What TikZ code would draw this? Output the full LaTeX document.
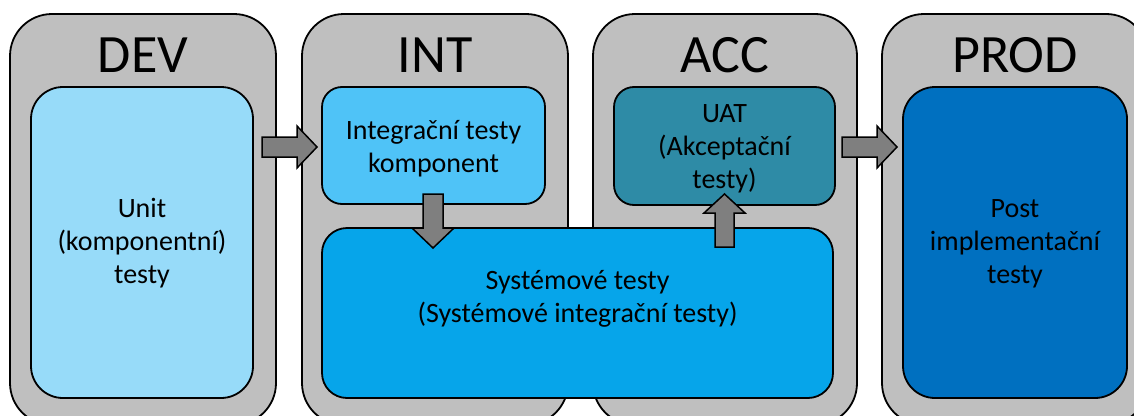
\documentclass[tikz,border=0pt]{standalone}
\usepackage{fontspec}
\setmainfont{Carlito}
\usetikzlibrary{calc}
\definecolor{outergray}{HTML}{BFBFBF}
\definecolor{arrgray}{HTML}{7F7F7F}
\definecolor{devblue}{HTML}{97DBF9}
\definecolor{intblue}{HTML}{4FC3F7}
\definecolor{sysblue}{HTML}{06A5EA}
\definecolor{uatteal}{HTML}{2E8BA6}
\definecolor{prodblue}{HTML}{0070C0}
\tikzset{
  outerbox/.style={draw=black, fill=outergray, line width=1.8pt, rounded corners=42pt},
  innerbox/.style={draw=black, line width=1.8pt},
  heading/.style={font=\fontsize{54}{60}\selectfont, anchor=base, inner sep=0pt},
  txt/.style={font=\fontsize{28}{33}\selectfont, align=center, inner sep=0pt},
  blockarrow/.style={draw=black, fill=arrgray, line width=1.5pt, line join=miter},
}
\begin{document}
\begin{tikzpicture}[x=1pt,y=-1pt]
\useasboundingbox (0,0) rectangle (1134,415);
\clip (0,0) rectangle (1134,415);
% outer stage boxes
\draw[outerbox] (10,14) rectangle (276,425);
\draw[outerbox] (302,14) rectangle (568,425);
\draw[outerbox] (593,14) rectangle (857,425);
\draw[outerbox] (882,14) rectangle (1148,425);
\node[heading] (hdev) at (143,72) {DEV};
\node[heading] (hint) at (435,72) {INT};
\node[heading] (hacc) at (725,72) {ACC};
\node[heading] (hprod) at (1015,72) {PROD};
% inner boxes
\draw[innerbox, fill=devblue, rounded corners=32pt] (31,87) rectangle (253,398);
\draw[innerbox, fill=intblue, rounded corners=20pt] (322,87) rectangle (545,204);
\draw[innerbox, fill=uatteal, rounded corners=20pt] (614,87) rectangle (835,205);
\draw[innerbox, fill=sysblue, rounded corners=25pt] (322,228) rectangle (833,398);
\draw[innerbox, fill=prodblue, rounded corners=32pt] (903,87) rectangle (1127,398);
% named centres
\coordinate (devin) at (142,242.5);
\coordinate (intin) at (433.5,145.5);
\coordinate (uat) at (724.5,146);
\coordinate (sys) at (577.5,313);
\coordinate (prodin) at (1015,242.5);
% texts
\node[txt] (tdev) at ($(devin)+(0,1)$) {Unit\\(komponentní)\\testy};
\node[txt] (tint) at ($(intin)+(0,3)$) {Integrační testy\\komponent};
\node[txt] (tuat) at ($(uat)+(0,3)$) {UAT\\(Akceptační\\testy)};
\node[txt] (tsys) at ($(sys)+(0,-14)$) {Systémové testy\\(Systémové integrační testy)};
\node[txt] (tprod) at ($(prodin)+(0,1)$) {Post\\implementační\\testy};
% block arrows
\draw[blockarrow] (262,137) -- (297,137) -- (297,126) -- (317,147) -- (297,168) -- (297,157) -- (262,157) -- cycle;
\draw[blockarrow] (842,137) -- (877,137) -- (877,126) -- (897,147) -- (877,168) -- (877,157) -- (842,157) -- cycle;
\draw[blockarrow] (423,194) -- (443,194) -- (443,228) -- (454,228) -- (433,248) -- (412,228) -- (423,228) -- cycle;
\draw[blockarrow] (715,247) -- (734,247) -- (734,213) -- (745,213) -- (724.5,194) -- (704,213) -- (715,213) -- cycle;
\end{tikzpicture}
\end{document}
